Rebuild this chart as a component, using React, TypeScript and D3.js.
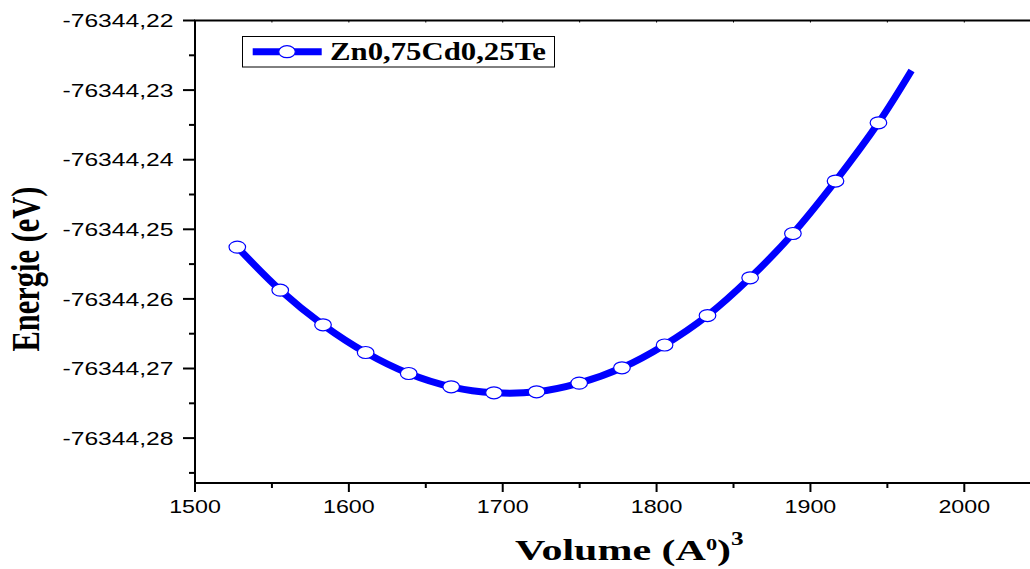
import React from "react";
import * as d3 from "d3";

// Data
const volumes = [1527.5, 1555.4, 1583.2, 1610.9, 1638.9, 1666.5, 1694.3, 1722.0, 1749.7, 1777.5, 1805.2, 1833.1, 1860.8, 1888.6, 1916.3, 1944.2];
const energies = [
  -76344.25256, -76344.25874, -76344.26372, -76344.2677, -76344.27072, -76344.27263,
  -76344.27349, -76344.27335, -76344.2721, -76344.2699, -76344.26662, -76344.26239,
  -76344.25697, -76344.2506, -76344.24307, -76344.2347,
];
// the fitted curve continues slightly past the last marker
const curveEndVolume = 1965.7;
const curveEndEnergy = -76344.22718;

const xTickValues = [1500, 1600, 1700, 1800, 1900, 2000];
const xMinorTickValues = [1550, 1650, 1750, 1850, 1950];
const yTickValues = [-76344.22, -76344.23, -76344.24, -76344.25, -76344.26, -76344.27, -76344.28];
const yMinorTickValues = [-76344.225, -76344.235, -76344.245, -76344.255, -76344.265, -76344.275, -76344.285];
const seriesName = "Zn0,75Cd0,25Te";

const W = 1030;
const H = 569;

export default function App() {
  const x = d3.scaleLinear().domain([1500, 2050]).range([195, 195 + 550 * 1.5386]);
  const y = d3.scaleLinear().domain([-76344.28645, -76344.22]).range([483, 20.5]);

  const pts: [number, number][] = volumes.map((v, i) => [v, energies[i]]);
  const linePts: [number, number][] = [...pts, [curveEndVolume, curveEndEnergy]];
  const line = d3
    .line<[number, number]>()
    .x((d) => x(d[0]))
    .y((d) => y(d[1]))
    .curve(d3.curveCatmullRom.alpha(0.5));

  const fmtY = (v: number) => d3.format(".2f")(v).replace(".", ",").replace("−", "-");
  const sans = "'Liberation Sans', Arial, sans-serif";
  const serif = "'Liberation Serif', 'Times New Roman', serif";
  const blue = "#0000FF";
  const x0 = x.range()[0];
  const yTop = y.range()[1];
  const yBot = y.range()[0];

  return (
    <svg width={W} height={H} style={{ position: "absolute", left: 0, top: 0, background: "#fff" }}>
      <rect x={0} y={0} width={W} height={H} fill="#fff" />
      {/* axes frame */}
      <line x1={x0} y1={yTop} x2={x0} y2={yBot} stroke="#000" strokeWidth={2} />
      <line x1={x0 - 1} y1={yBot} x2={W} y2={yBot} stroke="#000" strokeWidth={2} />
      <line x1={x0 - 1} y1={yTop} x2={W} y2={yTop} stroke="#000" strokeWidth={2} />

      {/* top axis small ticks */}
      {[...xTickValues, ...xMinorTickValues].map((v) => (
        <line key={"tt" + v} x1={x(v)} x2={x(v)} y1={yTop} y2={yTop + 2} stroke="#000" strokeWidth={1} />
      ))}

      {/* x axis ticks */}
      {xTickValues.map((v) => (
        <g key={"xt" + v}>
          <line x1={x(v)} x2={x(v)} y1={yBot} y2={yBot + 9} stroke="#000" strokeWidth={2} />
          <text
            x={x(v)}
            y={513.3}
            textAnchor="middle"
            fontFamily={sans}
            fontSize={18.5}
            textLength={51.7}
            lengthAdjust="spacingAndGlyphs"
            fill="#000"
          >
            {String(v)}
          </text>
        </g>
      ))}
      {xMinorTickValues.map((v) => (
        <line key={"xm" + v} x1={x(v)} x2={x(v)} y1={yBot} y2={yBot + 5} stroke="#000" strokeWidth={2} />
      ))}

      {/* y axis ticks */}
      {yTickValues.map((v) => (
        <g key={"yt" + v}>
          <line x1={x0 - 12} x2={x0} y1={y(v)} y2={y(v)} stroke="#000" strokeWidth={2} />
          <text
            x={173.5}
            y={y(v) + 6.6}
            textAnchor="end"
            fontFamily={sans}
            fontSize={18.5}
            textLength={111}
            lengthAdjust="spacingAndGlyphs"
            fill="#000"
          >
            {fmtY(v)}
          </text>
        </g>
      ))}
      {yMinorTickValues.map((v) => (
        <line key={"ym" + v} x1={x0 - 6} x2={x0} y1={y(v)} y2={y(v)} stroke="#000" strokeWidth={2} />
      ))}

      {/* series */}
      <path d={line(linePts) || ""} fill="none" stroke={blue} strokeWidth={7} />
      {pts.map((d, i) => (
        <ellipse key={"m" + i} cx={x(d[0])} cy={y(d[1])} rx={8.3} ry={6} fill="#fff" stroke={blue} strokeWidth={1.2} />
      ))}

      {/* legend */}
      <rect x={242.5} y={36.5} width={312} height={30.5} fill="#fff" stroke="#000" strokeWidth={1} />
      <line x1={252.7} x2={321.7} y1={51.7} y2={51.7} stroke={blue} strokeWidth={7} />
      <ellipse cx={287} cy={51.7} rx={8.3} ry={6} fill="#fff" stroke={blue} strokeWidth={1.2} />
      <text
        x={330}
        y={60}
        fontFamily={serif}
        fontWeight="bold"
        fontSize={25.5}
        textLength={216}
        lengthAdjust="spacingAndGlyphs"
        fill="#000"
      >
        {seriesName}
      </text>

      {/* x axis title */}
      <g transform="translate(515,560) scale(1.4,1)">
        <text x={0} y={0} fontFamily={serif} fontWeight="bold" fontSize={30} fill="#000">
          Volume (A
          <tspan fontSize={16} dy={-10}>0</tspan>
          <tspan dy={10}>)</tspan>
          <tspan fontSize={18} dy={-15}>3</tspan>
        </text>
      </g>

      {/* y axis title */}
      <g transform="translate(39,269) scale(1.3,1) rotate(-90)">
        <text x={0} y={0} textAnchor="middle" fontFamily={serif} fontWeight="bold" fontSize={30} textLength={165} lengthAdjust="spacingAndGlyphs" fill="#000">
          Energie (eV)
        </text>
      </g>
    </svg>
  );
}
